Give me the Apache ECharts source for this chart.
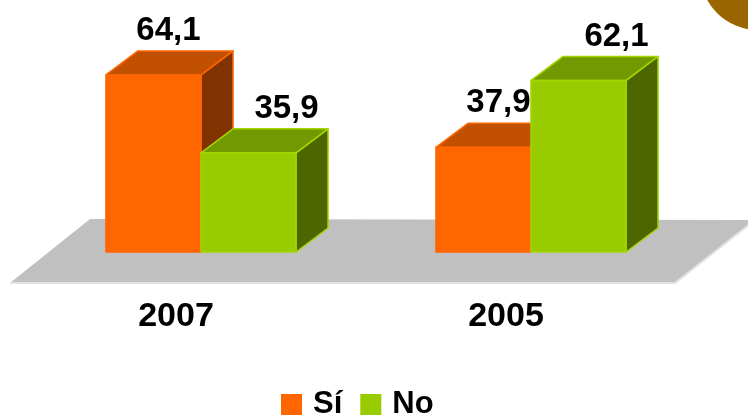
<!DOCTYPE html>
<html>
<head>
<meta charset="utf-8">
<script src="https://cdn.jsdelivr.net/npm/echarts@6/dist/echarts.min.js"></script>
<style>
  html, body { margin: 0; padding: 0; background: #fff; }
  #chart { width: 748px; height: 419px; }
</style>
</head>
<body>
<div id="chart"></div>
<script>
const categories = ["2007", "2005"];
const siValues = [64.1, 37.9];
const noValues = [35.9, 62.1];

const FONT = '"Liberation Sans", Arial, sans-serif';
const DEPTH_X = 32;
const DEPTH_Y = -24;

const palette = {
  si: { front: "#FF6600", top: "#C04F00", side: "#803300", stroke: "#FF6600" },
  no: { front: "#99CC00", top: "#739900", side: "#4D6600", stroke: "#A3D600" },
};

function makeRender(side, colors, labelShift) {
  return function (params, api) {
    const cat = api.value(0);
    const val = api.value(1);
    const base = api.coord([cat, 0]);
    const top = api.coord([cat, val]);
    const band = api.size([1, 0])[0];
    const w = band * 0.288;
    const x0 = side === 0 ? base[0] - w : base[0];
    const x1 = x0 + w;
    const y0 = top[1];
    const y1 = base[1];
    const lineStyle = { stroke: colors.stroke, lineWidth: 1.5, lineJoin: "round" };
    return {
      type: "group",
      children: [
        {
          type: "polygon",
          shape: { points: [[x1, y0], [x1 + DEPTH_X, y0 + DEPTH_Y], [x1 + DEPTH_X, y1 + DEPTH_Y], [x1, y1]] },
          style: Object.assign({ fill: colors.side }, lineStyle),
        },
        {
          type: "polygon",
          shape: { points: [[x0, y0], [x0 + DEPTH_X, y0 + DEPTH_Y], [x1 + DEPTH_X, y0 + DEPTH_Y], [x1, y0]] },
          style: Object.assign({ fill: colors.top }, lineStyle),
        },
        {
          type: "polygon",
          shape: { points: [[x0, y0], [x1, y0], [x1, y1], [x0, y1]] },
          style: Object.assign({ fill: colors.front }, lineStyle),
        },
        {
          type: "text",
          style: {
            text: String(val).replace(".", ","),
            x: (x0 + x1) / 2 + labelShift,
            y: y0 - 44,
            align: "center",
            verticalAlign: "middle",
            fill: "#000",
            font: "bold 33px " + FONT,
          },
        },
      ],
    };
  };
}

const chart = echarts.init(document.getElementById("chart"));

chart.setOption({
  animation: false,
  backgroundColor: "#fff",
  graphic: [
    {
      type: "polygon",
      z: -10,
      shape: { points: [[10, 283], [675, 283], [755, 220], [90, 219]] },
      style: { fill: "#C0C0C0" },
    },
    {
      type: "polyline",
      z: -9,
      shape: { points: [[10, 283], [675, 283], [755, 220]] },
      style: { stroke: "#E2E2E2", lineWidth: 2, fill: null },
    },
    {
      type: "circle",
      shape: { cx: 758, cy: -28, r: 58 },
      style: { fill: "#996600" },
    },
  ],
  grid: { left: 36, right: 52, top: 31, bottom: 167 },
  legend: {
    bottom: -6,
    left: 276,
    itemWidth: 21,
    itemHeight: 21,
    itemGap: 18,
    data: [
      { name: "Sí", icon: "rect" },
      { name: "No", icon: "rect" },
    ],
    textStyle: { fontSize: 31, fontWeight: "bold", color: "#000", fontFamily: FONT, padding: [0, 0, 0, 6] },
  },
  xAxis: {
    type: "category",
    data: categories,
    axisLine: { show: false },
    axisTick: { show: false },
    axisLabel: {
      color: "#000",
      fontSize: 34,
      fontWeight: "bold",
      fontFamily: FONT,
      margin: 48,
      padding: [0, 50, 0, 0],
    },
  },
  yAxis: {
    type: "value",
    min: 0,
    max: 80,
    show: false,
    splitLine: { show: false },
  },
  series: [
    {
      name: "Sí",
      type: "custom",
      itemStyle: { color: palette.si.front },
      renderItem: makeRender(0, palette.si, 15),
      data: siValues.map((v, i) => [i, v]),
    },
    {
      name: "No",
      type: "custom",
      itemStyle: { color: palette.no.front },
      renderItem: makeRender(1, palette.no, 38),
      data: noValues.map((v, i) => [i, v]),
    },
  ],
});
</script>
</body>
</html>
